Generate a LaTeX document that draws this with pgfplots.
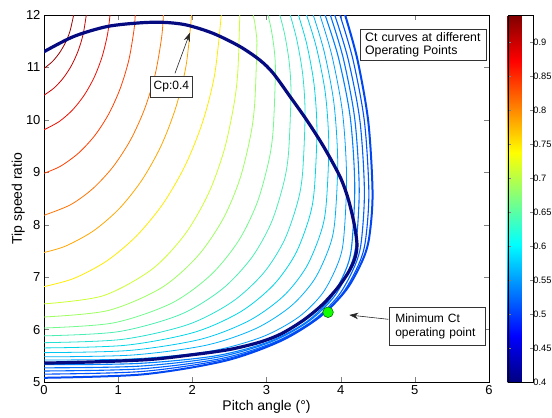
\documentclass[border=0pt]{standalone}
\usepackage{fontspec}
\setmainfont{Liberation Sans}
\usepackage{pgfplots}
\pgfplotsset{compat=1.18}
\usetikzlibrary{arrows.meta}
\definecolor{c1}{rgb}{0.60,0,0}
\definecolor{c2}{rgb}{0.78,0,0}
\definecolor{c3}{rgb}{0.93,0.05,0}
\definecolor{c4}{rgb}{1,0.25,0}
\definecolor{c5}{rgb}{1,0.45,0}
\definecolor{c6}{rgb}{1,0.65,0}
\definecolor{c7}{rgb}{1,0.92,0}
\definecolor{c8}{rgb}{0.80,1,0.20}
\definecolor{c9}{rgb}{0.62,1,0.38}
\definecolor{c10}{rgb}{0.45,0.98,0.55}
\definecolor{c11}{rgb}{0.30,0.93,0.70}
\definecolor{c12}{rgb}{0.15,0.88,0.82}
\definecolor{c13}{rgb}{0,0.84,0.90}
\definecolor{c14}{rgb}{0,0.78,0.94}
\definecolor{c15}{rgb}{0,0.70,0.97}
\definecolor{c16}{rgb}{0,0.62,1}
\definecolor{c17}{rgb}{0,0.50,1}
\definecolor{c18}{rgb}{0,0.44,1}
\definecolor{c19}{rgb}{0,0.38,1}
\definecolor{c20}{rgb}{0,0.32,1}
\definecolor{c21}{rgb}{0,0.28,0.95}
\definecolor{navy}{rgb}{0.02,0.04,0.50}
\begin{document}
\begin{tikzpicture}
\begin{axis}[
  at={(44pt,36pt)}, anchor=south west,
  scale only axis, width=445pt, height=367pt,
  xmin=0, xmax=6, ymin=5, ymax=12,
  xtick={0,1,2,3,4,5,6}, ytick={5,6,7,8,9,10,11,12},
  tick align=inside, major tick length=5pt,
  /pgf/number format/assume math mode=true,
  tick label style={font=\fontsize{13}{13}\selectfont},
  label style={font=\fontsize{14}{14}\selectfont},
  xlabel={Pitch angle (°)}, ylabel={Tip speed ratio},
  xlabel style={at={(axis description cs:0.5,-0.068)}, anchor=center},
  ylabel style={at={(axis description cs:-0.058,0.5)}, anchor=center},
  colormap/jet, point meta min=0.4, point meta max=0.94,
  colorbar,
  colorbar style={
    at={(parent axis.north east)}, anchor=north west, xshift=10.2pt,
    scale only axis, width=25pt, height=367pt,
    ytick={0.4,0.45,0.5,0.55,0.6,0.65,0.7,0.75,0.8,0.85,0.9},
    yticklabels={0.4,0.45,0.5,0.55,0.6,0.65,0.7,0.75,0.8,0.85,0.9},
    yticklabel style={font=\fontsize{9.3}{10}\selectfont, inner xsep=0.5pt},
    major tick length=3pt, tick align=inside,
  },
  every axis plot/.append style={smooth, line width=0.8pt, line cap=round},
]
\addplot[c1] coordinates {(0,10.98)(0.111,11.109)(0.206,11.272)(0.286,11.465)(0.349,11.685)(0.40,12)};
\addplot[c2] coordinates {(0,10.47)(0.141,10.614)(0.266,10.809)(0.375,11.048)(0.463,11.326)(0.528,11.634)(0.57,12)};
\addplot[c3] coordinates {(0,9.81)(0.207,9.970)(0.388,10.194)(0.547,10.481)(0.681,10.824)(0.785,11.212)(0.857,11.634)(0.89,12)};
\addplot[c4] coordinates {(0,8.98)(0.225,9.118)(0.468,9.369)(0.688,9.707)(0.877,10.123)(1.030,10.607)(1.144,11.142)(1.213,11.711)(1.23,12)};
\addplot[c5] coordinates {(0,8.18)(0.355,8.379)(0.658,8.688)(0.931,9.105)(1.167,9.618)(1.358,10.214)(1.500,10.874)(1.586,11.574)(1.61,12)};
\addplot[c6] coordinates {(0,7.47)(0.294,7.594)(0.670,7.886)(1.017,8.310)(1.322,8.855)(1.579,9.505)(1.778,10.239)(1.916,11.038)(1.99,12)};
\addplot[c7] coordinates {(0,6.82)(0.398,6.973)(0.840,7.303)(1.246,7.784)(1.605,8.401)(1.906,9.137)(2.141,9.968)(2.302,10.872)(2.39,12)};
\addplot[c8] coordinates {(0,6.49)(0.792,6.643)(1.452,7.146)(1.901,7.818)(2.218,8.596)(2.429,9.421)(2.561,10.291)(2.614,10.934)(2.64,12)};
\addplot[c9] coordinates {(0,6.24)(0.861,6.362)(1.579,6.793)(2.066,7.392)(2.411,8.101)(2.640,8.866)(2.784,9.691)(2.841,10.312)(2.87,11.4)(2.862,11.64)(2.842,11.85)(2.82,12)};
\addplot[c10] coordinates {(0,6.03)(0.936,6.127)(1.716,6.500)(2.246,7.038)(2.621,7.688)(2.870,8.404)(3.026,9.188)(3.089,9.790)(3.12,10.9)(3.104,11.34)(3.064,11.725)(3.02,12)};
\addplot[c11] coordinates {(0,5.88)(0.999,5.959)(1.832,6.283)(2.398,6.767)(2.797,7.366)(3.064,8.037)(3.230,8.785)(3.297,9.369)(3.33,10.5)(3.306,11.1)(3.246,11.625)(3.18,12)};
\addplot[c12] coordinates {(0,5.75)(1.056,5.813)(1.936,6.093)(2.534,6.526)(2.957,7.073)(3.238,7.696)(3.414,8.402)(3.485,8.962)(3.52,10.1)(3.489,10.86)(3.409,11.525)(3.32,12)};
\addplot[c13] coordinates {(0,5.65)(1.104,5.701)(2.024,5.947)(2.650,6.339)(3.091,6.846)(3.386,7.430)(3.570,8.103)(3.643,8.646)(3.68,9.8)(3.641,10.68)(3.542,11.45)(3.43,12)};
\addplot[c14] coordinates {(0,5.56)(1.152,5.602)(2.112,5.815)(2.765,6.170)(3.226,6.635)(3.533,7.182)(3.725,7.820)(3.802,8.342)(3.84,9.5)(3.794,10.5)(3.674,11.375)(3.54,12)};
\addplot[c15] coordinates {(0,5.48)(1.188,5.514)(2.178,5.699)(2.851,6.016)(3.326,6.443)(3.643,6.950)(3.841,7.549)(3.920,8.048)(3.96,9.2)(3.909,10.32)(3.778,11.3)(3.63,12)};
\addplot[c16] coordinates {(0,5.42)(1.224,5.443)(2.244,5.589)(2.938,5.858)(3.427,6.232)(3.754,6.689)(3.958,7.244)(4.039,7.717)(4.08,8.9)(4.025,10.14)(3.882,11.225)(3.72,12)};
\addplot[c17, line width=1.1pt] coordinates {(0,5.33)(1.257,5.353)(2.305,5.497)(3.017,5.760)(3.520,6.128)(3.855,6.577)(4.064,7.122)(4.148,7.588)(4.19,8.75)(4.129,10.05)(3.970,11.1875)(3.79,12)};
\addplot[c18, line width=1.1pt] coordinates {(0,5.27)(1.275,5.301)(2.338,5.472)(3.060,5.765)(3.570,6.158)(3.910,6.625)(4.123,7.178)(4.208,7.638)(4.25,8.7)(4.19,10.02)(4.035,11.175)(3.86,12)};
\addplot[c19, line width=1.1pt] coordinates {(0,5.21)(1.296,5.250)(2.376,5.444)(3.110,5.761)(3.629,6.174)(3.974,6.655)(4.190,7.213)(4.277,7.666)(4.32,8.65)(4.259,9.99)(4.10,11.1625)(3.92,12)};
\addplot[c20, line width=1.1pt] coordinates {(0,5.15)(1.314,5.200)(2.409,5.424)(3.154,5.769)(3.679,6.206)(4.030,6.702)(4.249,7.265)(4.336,7.712)(4.38,8.62)(4.32,9.972)(4.165,11.155)(3.99,12)};
\addplot[c21, line width=2pt] coordinates {(0,5.08)(1.329,5.145)(2.437,5.403)(3.190,5.782)(3.721,6.245)(4.076,6.759)(4.297,7.328)(4.386,7.768)(4.43,8.6)(4.373,9.96)(4.226,11.15)(4.06,12)};
% Cp = 0.4 curve
\addplot[navy, line width=3.2pt] coordinates {(0,5.36)(0.7,5.385)(1.43,5.43)(2.0,5.52)(2.5,5.62)(2.91,5.76)(3.2,5.92)(3.5,6.18)(3.75,6.47)(3.95,6.78)(4.1,7.08)(4.19,7.35)(4.22,7.62)(4.18,8.03)(4.10,8.50)(3.99,8.92)(3.77,9.49)(3.54,10.0)(3.32,10.44)(3.09,10.89)(2.91,11.14)(2.64,11.40)(2.28,11.65)(1.92,11.81)(1.61,11.86)(1.29,11.85)(0.85,11.78)(0.40,11.59)(0,11.30)};
% minimum Ct operating point
\addplot[only marks, mark=*, mark size=5.3pt, mark options={fill=green!90!lime, draw=green!45!black, line width=0.6pt}] coordinates {(3.83,6.33)};
% annotations
\node[draw=black!80, fill=white, line width=0.6pt, align=left, text width=117pt, inner xsep=4.5pt, inner ysep=1pt, minimum height=31.4pt, font=\fontsize{12.3}{13.5}\selectfont] at (axis cs:5.119,11.428) {Ct curves at different\\Operating Points};
\draw[-{Stealth[length=9pt,width=6.5pt]}, line width=0.6pt, black!85] (axis cs:1.766,10.888) -- (axis cs:1.968,11.663);
\node[draw=black!80, fill=white, line width=0.6pt, inner sep=0pt, minimum width=42.7pt, minimum height=21.3pt, font=\fontsize{12}{13}\selectfont] at (axis cs:1.717,10.633) {Cp:0.4};
\draw[-{Stealth[length=9pt,width=6.5pt]}, line width=0.6pt, black!85] (axis cs:4.642,6.196) -- (axis cs:4.116,6.278);
\node[draw=black!80, fill=white, line width=0.6pt, align=left, text width=83.7pt, inner xsep=6pt, inner ysep=1pt, minimum height=38pt, font=\fontsize{12}{14}\selectfont] at (axis cs:5.301,6.063) {Minimum Ct\\operating point};
\end{axis}
\pgfresetboundingbox
\path[use as bounding box] (0,0) rectangle (552pt,418pt);
\end{tikzpicture}
\end{document}
